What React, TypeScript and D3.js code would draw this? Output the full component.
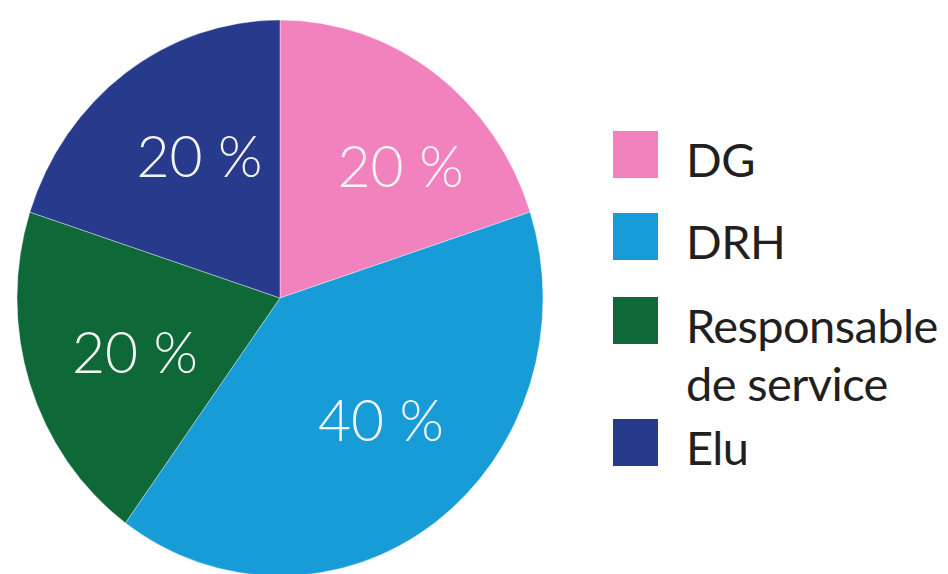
import React, { useEffect, useRef } from 'react';
import * as d3 from 'd3';

const categories = ['DG', 'DRH', 'Responsable de service', 'Elu'];
const legendLines = [['DG'], ['DRH'], ['Responsable', 'de service'], ['Elu']];
const values = [20, 40, 20, 20];
const colors = ['#f282be', '#189cd8', '#0e6838', '#283a8c'];
// in-slice label placement: angular nudge (degrees) and radius as share of the pie radius
const labelNudge = [8, -5, -1.5, 5];
const labelRadius = [0.66, 0.585, 0.585, 0.595];

const App = () => {
  const svgRef = useRef<SVGSVGElement>(null);

  useEffect(() => {
    if (!svgRef.current) return;
    const width = 948;
    const height = 574;
    const cx = 280;
    const cy = 298;
    const ry = 278;
    const rx = 263;

    const svg = d3.select(svgRef.current);
    svg.selectAll('*').remove();
    svg.attr('width', width).attr('height', height).attr('viewBox', `0 0 ${width} ${height}`);

    const data = categories.map((c, i) => ({ label: c, value: values[i] }));
    const pie = d3.pie<any>().sort(null).value(d => d.value);
    const arcs = pie(data);

    const arc = d3.arc<any>().innerRadius(0).outerRadius(ry);

    // pie is slightly squeezed horizontally in the original
    const g = svg.append('g')
      .attr('transform', `translate(${cx},${cy}) scale(${rx / ry},1)`);

    g.selectAll('path')
      .data(arcs)
      .join('path')
      .attr('d', arc)
      .attr('fill', (d, i) => colors[i])
      .attr('stroke', '#ffffff')
      .attr('stroke-width', 0.4);

    const labelPos = (d: any, i: number) => {
      const a = (d.startAngle + d.endAngle) / 2 + (labelNudge[i] * Math.PI) / 180;
      const r = labelRadius[i] * ry;
      return [cx + Math.sin(a) * r * (rx / ry), cy - Math.cos(a) * r];
    };

    svg.append('g')
      .selectAll('text')
      .data(arcs)
      .join('text')
      .attr('x', (d, i) => labelPos(d, i)[0])
      .attr('y', (d, i) => labelPos(d, i)[1])
      .attr('dy', '0.36em')
      .attr('text-anchor', 'middle')
      .attr('font-family', 'Lato, sans-serif')
      .attr('font-weight', 300)
      .attr('font-size', 57)
      .attr('fill', '#f4f4f4')
      .text(d => `${d.data.value} %`);

    // legend
    const legendTop = [131, 213, 297, 419];
    const legend = svg.append('g');
    categories.forEach((c, i) => {
      const y = legendTop[i];
      legend.append('rect')
        .attr('x', 613)
        .attr('y', y)
        .attr('width', 45)
        .attr('height', 47)
        .attr('fill', colors[i]);
      const t = legend.append('text')
        .attr('x', 686)
        .attr('y', y + 46)
        .attr('font-family', 'Lato, sans-serif')
        .attr('font-size', 47)
        .attr('letter-spacing', -0.6)
        .attr('fill', '#231f20');
      legendLines[i].forEach((line, j) => {
        t.append('tspan')
          .attr('x', 686)
          .attr('dy', j === 0 ? 0 : 58)
          .text(line);
      });
    });
  }, []);

  return (
    <div style={{ position: 'absolute', left: 0, top: 0, width: 948, height: 574, background: '#ffffff' }}>
      <svg ref={svgRef} style={{ display: 'block' }}></svg>
    </div>
  );
};

export default App;
